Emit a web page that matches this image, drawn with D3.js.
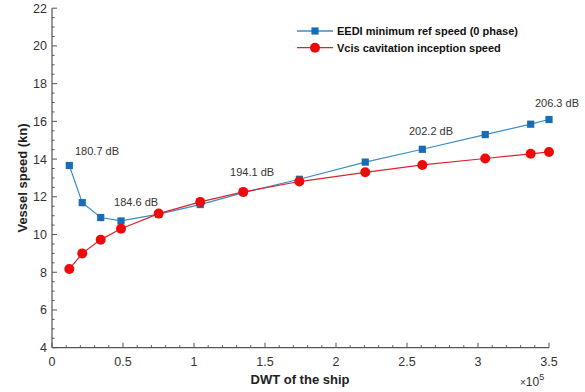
<!DOCTYPE html>
<html><head><meta charset="utf-8">
<script src="https://cdn.jsdelivr.net/npm/d3@7"></script>
<style>body{margin:0;background:#fff}svg{display:block;font-family:"Liberation Sans",Arial,sans-serif}</style>
</head><body><svg id="c" width="585" height="392"></svg>
<script>
const dwt = [12200, 21300, 34300, 48600, 75100, 104400, 134700, 174200, 220600, 260800, 305100, 337100, 350000];
const eedi = [13.66, 11.69, 10.9, 10.72, 11.08, 11.59, 12.22, 12.93, 13.84, 14.52, 15.3, 15.85, 16.1];
const vcis = [8.17, 9.0, 9.73, 10.31, 11.11, 11.73, 12.26, 12.81, 13.3, 13.69, 14.03, 14.28, 14.38];
const seriesNames = ["EEDI minimum ref speed (0 phase)", "Vcis cavitation inception speed"];
const xTicks = [0, 0.5, 1, 1.5, 2, 2.5, 3, 3.5];
const yTicks = [4, 6, 8, 10, 12, 14, 16, 18, 20, 22];
const annLabels = ["180.7 dB", "184.6 dB", "194.1 dB", "202.2 dB", "206.3 dB"];
const annX = [16200, 43700, 125400, 251400, 340100];
const annY = [14.22, 11.49, 13.11, 15.26, 16.77];

const svg = d3.select("#c");
const x = d3.scaleLinear().domain([0, 350000]).range([52, 549]);
const y = d3.scaleLinear().domain([4, 22]).range([347.7, 8.2]);
const axisColor = "#555";
const txtColor = "#333";

const gx = svg.append("g");
d3.range(0, 350001, 10000).forEach(v => {
  const major = Math.round(v) % 50000 === 0;
  gx.append("line").attr("x1", x(v)).attr("x2", x(v)).attr("y1", y(4)).attr("y2", y(4) - (major ? 5 : 2.5))
    .attr("stroke", axisColor).attr("stroke-width", 1);
});
gx.append("line").attr("x1", x(0)).attr("x2", x(350000)).attr("y1", y(4)).attr("y2", y(4)).attr("stroke", axisColor).attr("stroke-width", 1.2);
xTicks.forEach(t => {
  gx.append("text").attr("x", x(t * 1e5)).attr("y", y(4) + 18).attr("text-anchor", "middle")
    .attr("font-size", 12.5).attr("fill", txtColor).text(t);
});

const gy = svg.append("g");
d3.range(4, 22.01, 0.5).forEach(v => {
  const major = Math.abs(v % 2) < 1e-6;
  gy.append("line").attr("x1", x(0)).attr("x2", x(0) + (major ? 5 : 2.5)).attr("y1", y(v)).attr("y2", y(v))
    .attr("stroke", axisColor).attr("stroke-width", 1);
});
gy.append("line").attr("x1", x(0)).attr("x2", x(0)).attr("y1", y(4)).attr("y2", y(22)).attr("stroke", axisColor).attr("stroke-width", 1.2);
yTicks.forEach(t => {
  gy.append("text").attr("x", x(0) - 5).attr("y", y(t) + 4.5).attr("text-anchor", "end")
    .attr("font-size", 12.5).attr("fill", txtColor).text(t);
});

svg.append("text").attr("x", 300).attr("y", 384).attr("text-anchor", "middle").attr("font-size", 13)
  .attr("font-weight", "bold").attr("fill", "#222").text("DWT of the ship");
svg.append("text").attr("transform", "translate(27,178) rotate(-90)").attr("text-anchor", "middle").attr("font-size", 13)
  .attr("font-weight", "bold").attr("fill", "#222").text("Vessel speed (kn)");
const ex = svg.append("text").attr("x", 520).attr("y", 386).attr("font-size", 12).attr("fill", txtColor);
ex.append("tspan").attr("font-size", 10).text("\u00d7");
ex.append("tspan").text("10");
ex.append("tspan").attr("font-size", 9).attr("dy", -6).text("5");

const blueLine = "#3d8cc6", blueMark = "#1a6db5";
const redLine = "#d8262e", redMark = "#ee0a0a";

const line = d3.line().x(d => x(d[0])).y(d => y(d[1]));
const bData = dwt.map((d, i) => [d, eedi[i]]);
const rData = dwt.map((d, i) => [d, vcis[i]]);

svg.append("path").attr("d", line(bData)).attr("fill", "none").attr("stroke", blueLine).attr("stroke-width", 1.2);
svg.selectAll(".bm").data(bData).enter().append("rect")
  .attr("x", d => x(d[0]) - 3.6).attr("y", d => y(d[1]) - 3.6).attr("width", 7.2).attr("height", 7.2).attr("fill", blueMark);
svg.append("path").attr("d", line(rData)).attr("fill", "none").attr("stroke", redLine).attr("stroke-width", 1.2);
svg.selectAll(".rm").data(rData).enter().append("circle")
  .attr("cx", d => x(d[0])).attr("cy", d => y(d[1])).attr("r", 5).attr("fill", redMark);

annLabels.forEach((lab, i) => {
  svg.append("text").attr("x", x(annX[i])).attr("y", y(annY[i])).attr("font-size", 11).attr("fill", "#333").text(lab);
});

const lg = svg.append("g");
[[31, blueLine, "sq"], [47.7, redLine, "ci"]].forEach((r, i) => {
  lg.append("line").attr("x1", 297).attr("x2", 333).attr("y1", r[0]).attr("y2", r[0]).attr("stroke", r[1]).attr("stroke-width", 1.3);
  if (r[2] === "sq") lg.append("rect").attr("x", 315 - 3.6).attr("y", r[0] - 3.6).attr("width", 7.2).attr("height", 7.2).attr("fill", blueMark);
  else lg.append("circle").attr("cx", 315).attr("cy", r[0]).attr("r", 5).attr("fill", redMark);
  lg.append("text").attr("x", 337).attr("y", r[0] + 4).attr("font-size", 11).attr("font-weight", "bold").attr("fill", "#111").text(seriesNames[i]);
});
</script></body></html>
